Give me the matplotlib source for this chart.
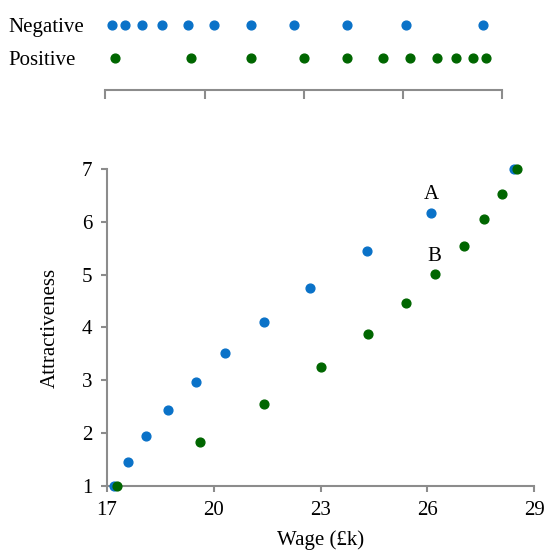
import matplotlib.pyplot as plt
import numpy as np

plt.rcParams['font.family'] = ['Liberation Serif', 'DejaVu Serif']

# Datos
neg_wage = [17.2, 17.6, 18.1, 18.7, 19.5, 20.3, 21.4, 22.7, 24.3, 26.1, 28.42]
neg_attr = [1.0, 1.45, 1.94, 2.44, 2.97, 3.52, 4.11, 4.74, 5.44, 6.17, 7.0]
pos_wage = [17.28, 19.6, 21.4, 23.0, 24.32, 25.4, 26.2, 27.02, 27.6, 28.1, 28.52]
pos_attr = [1.0, 1.83, 2.55, 3.25, 3.88, 4.47, 5.01, 5.55, 6.05, 6.53, 7.0]
groups = ['Positive', 'Negative']
x_ticks = [17, 20, 23, 26, 29]
y_ticks = [1, 2, 3, 4, 5, 6, 7]

blue = '#0a72c8'
green = '#006600'
gray = '#8c8c8c'
fs = 15

fig = plt.figure(figsize=(5.46, 5.52), dpi=100)

# Panel superior: tira de puntos
ax_top = fig.add_axes([0.1929, 0.837, 0.7271, 0.1476])
ax_top.scatter(neg_wage, [1] * len(neg_wage), s=40, color=blue, clip_on=False, zorder=3)
ax_top.scatter(pos_wage, [0] * len(pos_wage), s=40, color=green, clip_on=False, zorder=3)
ax_top.set_xlim(17, 29)
ax_top.set_ylim(-0.97, 1.5)
ax_top.set_xticks(x_ticks)
ax_top.set_xticklabels([])
ax_top.set_yticks([])
for s in ['top', 'left', 'right']:
    ax_top.spines[s].set_visible(False)
ax_top.spines['bottom'].set_color(gray)
ax_top.spines['bottom'].set_linewidth(1.5)
ax_top.tick_params(axis='x', length=6.5, width=1.5, color=gray)
trans = ax_top.get_yaxis_transform()
for i, g in enumerate(groups):
    ax_top.text(-0.245, i, g, transform=trans, ha='left', va='center_baseline', fontsize=fs)

# Panel inferior: dispersión
ax = fig.add_axes([0.196, 0.1196, 0.7826, 0.5743])
ax.scatter(neg_wage, neg_attr, s=40, color=blue, clip_on=False, zorder=3)
ax.scatter(pos_wage, pos_attr, s=40, color=green, clip_on=False, zorder=3)
ax.set_xlim(17, 29)
ax.set_ylim(1, 7)
ax.set_xticks(x_ticks)
ax.set_yticks(y_ticks)
for s in ['top', 'right']:
    ax.spines[s].set_visible(False)
for s in ['left', 'bottom']:
    ax.spines[s].set_color(gray)
    ax.spines[s].set_linewidth(1.5)
ax.tick_params(length=4.5, width=1.5, color=gray, labelsize=fs, pad=6)
ax.set_xlabel('Wage (£k)', fontsize=fs, labelpad=8)
ax.set_ylabel('Attractiveness', fontsize=fs, labelpad=16)

ax.annotate('A', (neg_wage[9], neg_attr[9]), xytext=(0, 6), textcoords='offset points',
            ha='center', va='bottom', fontsize=fs)
ax.annotate('B', (pos_wage[6], pos_attr[6]), xytext=(0, 6), textcoords='offset points',
            ha='center', va='bottom', fontsize=fs)

fig.savefig('out.png', dpi=100)
